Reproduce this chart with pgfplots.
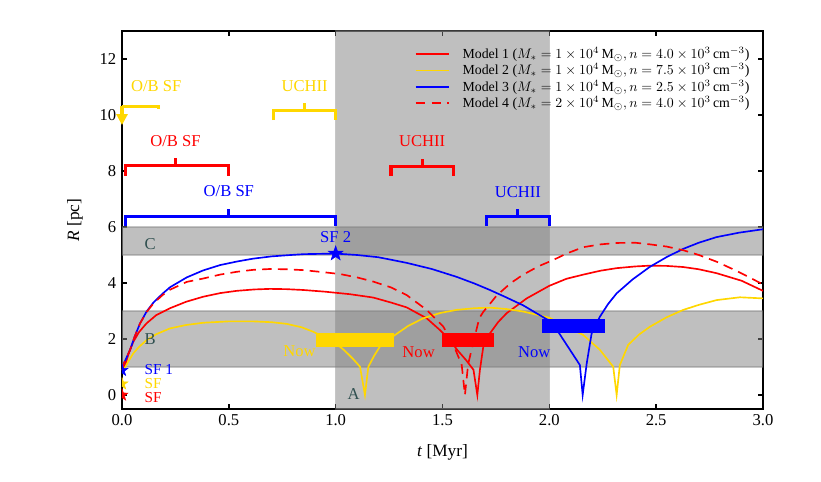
\documentclass[12pt,border=0pt]{standalone}
\usepackage{fontspec}
\setmainfont{Liberation Serif}
\usepackage{pgfplots}
\pgfplotsset{compat=1.18}
\usetikzlibrary{arrows.meta}

\definecolor{gold}{RGB}{255,215,0}
\definecolor{slate}{RGB}{47,79,79}

% filled five-pointed star
\pgfdeclareplotmark{fstar}{%
  \pgfpathmoveto{\pgfpointpolar{90}{\pgfplotmarksize}}%
  \pgfpathlineto{\pgfpointpolar{126}{0.4*\pgfplotmarksize}}%
  \pgfpathlineto{\pgfpointpolar{162}{\pgfplotmarksize}}%
  \pgfpathlineto{\pgfpointpolar{198}{0.4*\pgfplotmarksize}}%
  \pgfpathlineto{\pgfpointpolar{234}{\pgfplotmarksize}}%
  \pgfpathlineto{\pgfpointpolar{270}{0.4*\pgfplotmarksize}}%
  \pgfpathlineto{\pgfpointpolar{306}{\pgfplotmarksize}}%
  \pgfpathlineto{\pgfpointpolar{342}{0.4*\pgfplotmarksize}}%
  \pgfpathlineto{\pgfpointpolar{18}{\pgfplotmarksize}}%
  \pgfpathlineto{\pgfpointpolar{54}{0.4*\pgfplotmarksize}}%
  \pgfpathclose
  \pgfusepathqfillstroke
}

\pgfplotsset{
  rbase/.style={
    scale only axis,
    width=6.41in, height=3.78in,
    xmin=0, xmax=3, ymin=-0.5, ymax=13,
  },
  band/.style={fill=gray, fill opacity=0.5, draw=gray, draw opacity=0.45, line width=1pt, forget plot},
  brk/.style={line width=2.2pt},
}

\begin{document}
\begin{tikzpicture}
\begin{axis}[
    rbase,
    clip marker paths=true,
    axis line style={line width=1.2pt},
    tick align=inside,
    major tick length=3.6pt,
    every tick/.style={black, line width=1pt},
    xtick={0,0.5,...,3},
    ytick={0,2,...,12},
    minor tick num=0,
    /pgf/number format/assume math mode=true,
    xticklabel style={/pgf/number format/fixed, /pgf/number format/fixed zerofill, /pgf/number format/precision=1},
    ticklabel style={font=\fontsize{12}{14}\selectfont},
    xlabel={\textit{t} [Myr]},
    ylabel={\textit{R} [pc]},
    label style={font=\fontsize{12.5}{14}\selectfont},
    xlabel style={yshift=-5pt},
    ylabel style={yshift=4pt},
    legend style={at={(0.99,0.972)}, anchor=north east, draw=none, fill=none,
      font=\fontsize{10}{11}\selectfont, row sep=-2.2pt},
    legend cell align=left,
    legend image code/.code={\draw[#1] (0cm,0cm) -- (0.85cm,0cm); \path (1.1cm,0cm);},
]
% shaded regions A, B, C
\addplot[band] coordinates {(1,-0.5) (2,-0.5) (2,13) (1,13)} -- cycle;
\addplot[band] coordinates {(0,1) (3,1) (3,3) (0,3)} -- cycle;
\addplot[band] coordinates {(0,5) (3,5) (3,6) (0,6)} -- cycle;

% Model 1
\addplot[red, line width=1.2pt] coordinates {
  (0.0,0.88) (0.014,1.05) (0.03,1.45) (0.053,1.9) (0.08,2.25) (0.115,2.56)
  (0.16,2.85) (0.225,3.1) (0.3,3.33) (0.38,3.51) (0.46,3.64) (0.537,3.72)
  (0.62,3.77) (0.693,3.79) (0.77,3.78) (0.849,3.75) (0.95,3.69) (1.067,3.6)
  (1.176,3.48) (1.26,3.3) (1.332,3.13) (1.426,2.74) (1.488,2.32) (1.53,2.0)
  (1.57,1.6) (1.61,1.25) (1.645,0.9) (1.663,0) (1.675,0.89) (1.691,1.73)
  (1.722,2.2) (1.76,2.6) (1.8,2.92) (1.894,3.45) (2.0,3.9) (2.08,4.15)
  (2.159,4.3) (2.24,4.44) (2.315,4.53) (2.4,4.59) (2.471,4.62) (2.55,4.61)
  (2.627,4.57) (2.7,4.49) (2.783,4.35) (2.9,4.08) (3.0,3.72)
};
\addlegendentry{Model 1 ($M_* = 1\times10^{4}\,\mathrm{M}_\odot, n = 4.0\times10^{3}\,\mathrm{cm}^{-3}$)}

% Model 2
\addplot[gold, line width=1.2pt] coordinates {
  (0.0,0.88) (0.014,0.98) (0.03,1.2) (0.053,1.49) (0.08,1.72) (0.115,1.96)
  (0.16,2.17) (0.225,2.38) (0.3,2.5) (0.38,2.58) (0.5,2.63) (0.614,2.63)
  (0.7,2.6) (0.771,2.54) (0.84,2.42) (0.895,2.26) (0.95,2.05) (1.0,1.85)
  (1.04,1.6) (1.08,1.3) (1.114,1.01) (1.137,0) (1.153,1.01) (1.18,1.4)
  (1.207,1.73) (1.24,1.95) (1.277,2.14) (1.34,2.47) (1.41,2.74) (1.49,2.93)
  (1.566,3.04) (1.65,3.1) (1.722,3.12) (1.8,3.07) (1.878,2.98) (1.94,2.87)
  (2.003,2.75) (2.081,2.44) (2.159,2.14) (2.237,1.61) (2.299,1.01) (2.315,0)
  (2.33,1.07) (2.369,1.79) (2.42,2.16) (2.471,2.44) (2.55,2.78) (2.627,3.04)
  (2.7,3.22) (2.783,3.39) (2.892,3.49) (3.0,3.45)
};
\addlegendentry{Model 2 ($M_* = 1\times10^{4}\,\mathrm{M}_\odot, n = 7.5\times10^{3}\,\mathrm{cm}^{-3}$)}

% Model 3
\addplot[blue, line width=1.2pt] coordinates {
  (0.0,0.88) (0.01,1.15) (0.037,1.6) (0.06,2.1) (0.084,2.55) (0.115,2.98)
  (0.147,3.3) (0.19,3.62) (0.225,3.85) (0.303,4.2) (0.38,4.45) (0.459,4.64)
  (0.54,4.77) (0.614,4.87) (0.7,4.95) (0.771,4.99) (0.85,5.03) (0.92,5.04)
  (1.0,5.05) (1.1,5.0) (1.2,4.92) (1.332,4.72) (1.45,4.5) (1.566,4.22)
  (1.65,3.98) (1.722,3.75) (1.8,3.48) (1.878,3.2) (1.94,2.92) (2.0,2.65)
  (2.042,2.25) (2.096,1.62) (2.143,1.07) (2.156,0) (2.175,1.13) (2.198,2.2)
  (2.237,2.8) (2.275,3.25) (2.315,3.63) (2.39,4.13) (2.471,4.58) (2.55,4.93)
  (2.627,5.22) (2.7,5.44) (2.783,5.64) (2.89,5.8) (3.0,5.92)
};
\addlegendentry{Model 3 ($M_* = 1\times10^{4}\,\mathrm{M}_\odot, n = 2.5\times10^{3}\,\mathrm{cm}^{-3}$)}

% Model 4
\addplot[red, line width=1.2pt, dash pattern=on 7pt off 4.5pt] coordinates {
  (0.0,0.88) (0.01,1.15) (0.037,1.6) (0.06,2.1) (0.084,2.55) (0.115,2.96)
  (0.147,3.27) (0.19,3.57) (0.225,3.76) (0.303,4.04) (0.38,4.16) (0.459,4.3)
  (0.537,4.4) (0.614,4.47) (0.693,4.5) (0.771,4.49) (0.849,4.46) (0.95,4.38)
  (1.02,4.32) (1.1,4.2) (1.176,4.05) (1.26,3.84) (1.332,3.57) (1.426,3.04)
  (1.504,2.44) (1.558,1.67) (1.59,1.07) (1.605,0) (1.62,1.1) (1.645,1.9)
  (1.672,2.74) (1.691,2.97) (1.73,3.33) (1.753,3.55) (1.82,4.0) (1.878,4.3)
  (1.95,4.6) (2.018,4.82) (2.08,5.05) (2.159,5.28) (2.24,5.38) (2.315,5.43)
  (2.4,5.44) (2.471,5.38) (2.55,5.3) (2.627,5.17) (2.7,5.0) (2.783,4.76)
  (2.88,4.42) (3.0,3.95)
};
\addlegendentry{Model 4 ($M_* = 2\times10^{4}\,\mathrm{M}_\odot, n = 4.0\times10^{3}\,\mathrm{cm}^{-3}$)}

% "Now" markers
\addplot[fill=gold, draw=none, forget plot] coordinates {(0.906,1.73) (1.273,1.73) (1.273,2.22) (0.906,2.22)} -- cycle;
\addplot[fill=red, draw=none, forget plot] coordinates {(1.496,1.73) (1.741,1.73) (1.741,2.22) (1.496,2.22)} -- cycle;
\addplot[fill=blue, draw=none, forget plot] coordinates {(1.964,2.22) (2.26,2.22) (2.26,2.70) (1.964,2.70)} -- cycle;

% star formation events
\addplot[only marks, mark=fstar, mark size=4.5pt, red, forget plot] coordinates {(0,0.0)};
\addplot[only marks, mark=fstar, mark size=4.5pt, gold, forget plot] coordinates {(0,0.4)};
\addplot[only marks, mark=fstar, mark size=4.5pt, blue, forget plot] coordinates {(0,0.88)};
\addplot[only marks, mark=fstar, mark size=5.5pt, blue, forget plot] coordinates {(1.0,5.05)};
\end{axis}

\begin{axis}[rbase, hide axis, clip=false]
% O/B SF and UCHII brackets
\addplot[gold, brk] coordinates {(0,10.32) (0.17,10.32) (0.17,10.2)};
\addplot[gold, line width=2.2pt, -{Triangle[width=8pt,length=8pt]}] coordinates {(0,10.32) (0,9.64)};
\addplot[gold, brk] coordinates {(0.708,9.82) (0.708,10.15) (1.0,10.15) (1.0,9.82)};
\addplot[gold, brk] coordinates {(0.854,10.15) (0.854,10.42)};
\addplot[red, brk] coordinates {(0.015,7.83) (0.015,8.18) (0.5,8.18) (0.5,7.83)};
\addplot[red, brk] coordinates {(0.25,8.18) (0.25,8.45)};
\addplot[red, brk] coordinates {(1.259,7.83) (1.259,8.15) (1.55,8.15) (1.55,7.83)};
\addplot[red, brk] coordinates {(1.405,8.15) (1.405,8.42)};
\addplot[blue, brk] coordinates {(0.015,6.02) (0.015,6.37) (1.0,6.37) (1.0,6.02)};
\addplot[blue, brk] coordinates {(0.5,6.37) (0.5,6.64)};
\addplot[blue, brk] coordinates {(1.706,6.04) (1.706,6.37) (2.0,6.37) (2.0,6.04)};
\addplot[blue, brk] coordinates {(1.853,6.37) (1.853,6.63)};

\node[gold, anchor=base] at (axis cs:0.16,10.83) {O/B SF};
\node[gold, anchor=base] at (axis cs:0.855,10.83) {UCHII};
\node[red, anchor=base] at (axis cs:0.25,8.87) {O/B SF};
\node[red, anchor=base] at (axis cs:1.405,8.86) {UCHII};
\node[blue, anchor=base] at (axis cs:0.5,7.08) {O/B SF};
\node[blue, anchor=base] at (axis cs:1.853,7.06) {UCHII};
\node[blue, anchor=base] at (axis cs:1.0,5.43) {SF 2};
\node[blue, anchor=base west, inner sep=0pt, font=\fontsize{11}{12}\selectfont] at (axis cs:0.105,0.74) {SF 1};
\node[gold, anchor=base west, inner sep=0pt, font=\fontsize{11}{12}\selectfont] at (axis cs:0.105,0.24) {SF};
\node[red, anchor=base west, inner sep=0pt, font=\fontsize{11}{12}\selectfont] at (axis cs:0.105,-0.27) {SF};
\node[gold, anchor=base east, inner sep=0pt] at (axis cs:0.908,1.36) {Now};
\node[red, anchor=base east, inner sep=0pt] at (axis cs:1.465,1.35) {Now};
\node[blue, anchor=base east, inner sep=0pt] at (axis cs:2.006,1.35) {Now};
\node[slate, anchor=base west, inner sep=0pt] at (axis cs:1.055,-0.15) {A};
\node[slate, anchor=base west, inner sep=0pt] at (axis cs:0.105,1.82) {B};
\node[slate, anchor=base west, inner sep=0pt] at (axis cs:0.105,5.21) {C};
\end{axis}

\pgfresetboundingbox
\path ([shift={(-1.22in,-0.73in)}]current axis.south west)
  rectangle ([shift={(0.58in,0.31in)}]current axis.north east);
\end{tikzpicture}
\end{document}
